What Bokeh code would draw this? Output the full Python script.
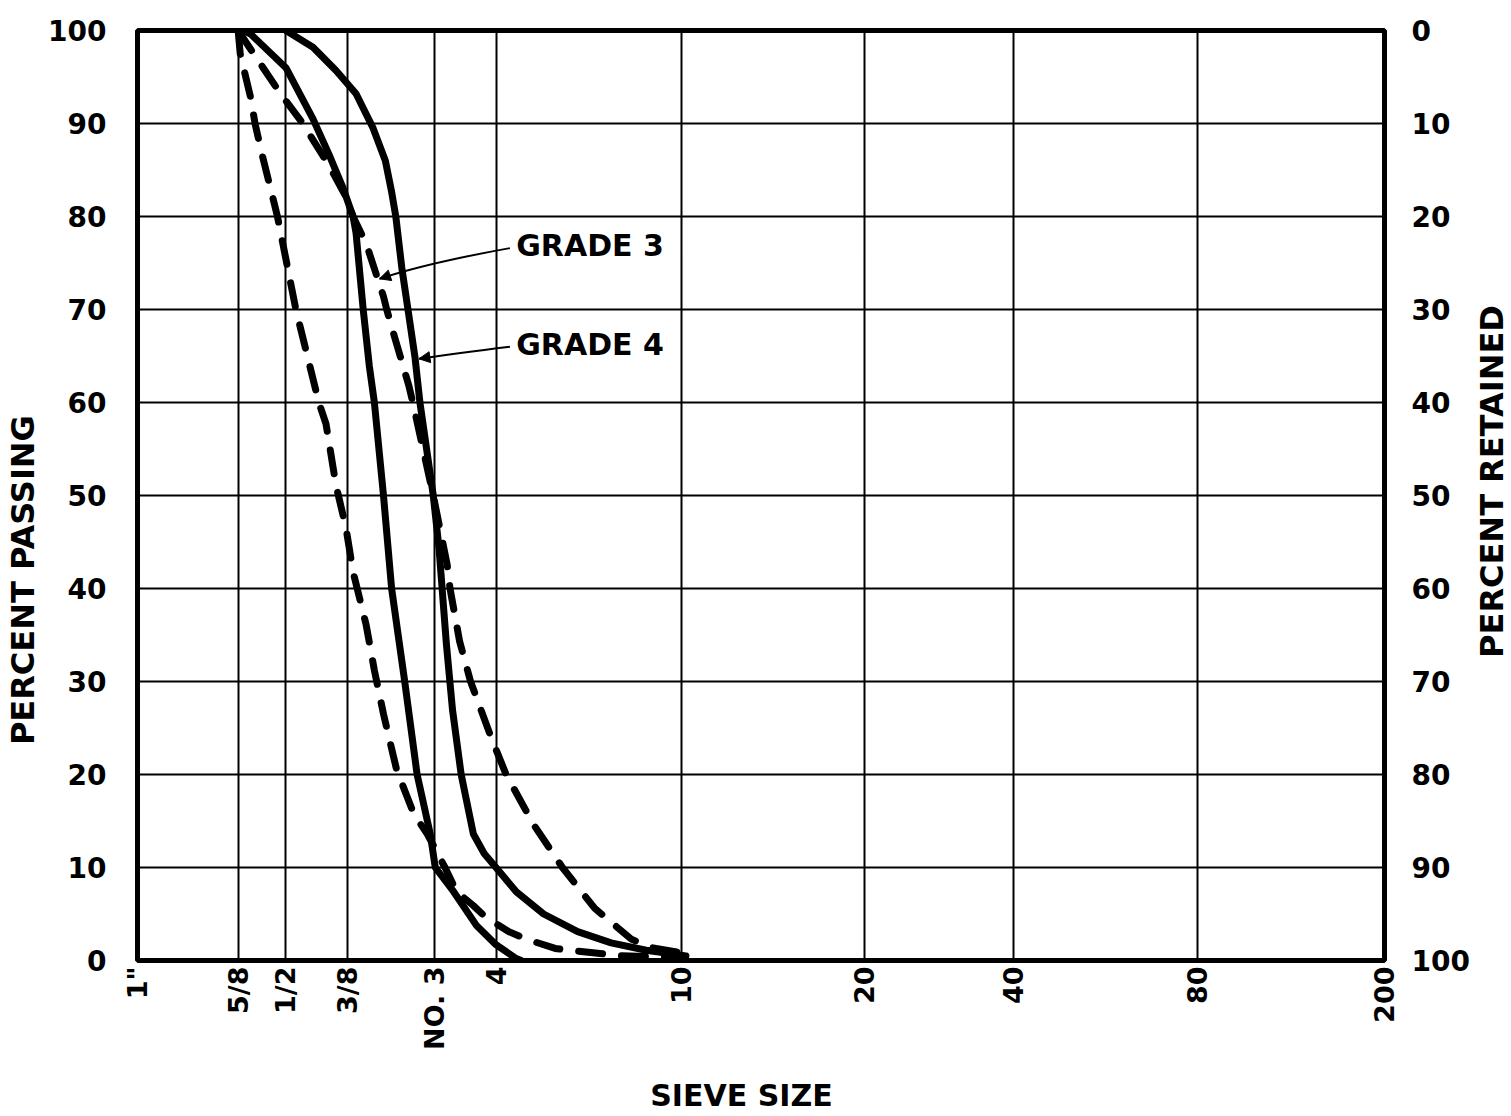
import math
from bokeh.plotting import figure
from bokeh.layouts import row, column
from bokeh.models import (Range1d, LinearAxis, FixedTicker, CustomJSTickFormatter,
                          Label, Arrow, NormalHead)
from bokeh.embed import file_html
from bokeh.resources import INLINE

# ---------------- data ----------------
# sieve openings (mm) and their labels
sieve_mm = [25.4, 15.875, 12.7, 9.525, 6.35, 4.75, 2.0, 0.85, 0.425, 0.18, 0.075]
sieve_labels = ['1"', '5/8', '1/2', '3/8', 'NO. 3', '4', '10', '20', '40', '80', '200']
pct_ticks = [0, 10, 20, 30, 40, 50, 60, 70, 80, 90, 100]

# Grade 3 limits (dashed)
g3_a_mm = [15.875, 15.72, 14.96, 14.67, 14.17, 13.21, 12.12, 10.89, 10.53, 10.05, 9.59, 9.28,
           8.73, 8.40, 8.05, 7.68, 7.57, 6.98, 6.56, 6.04, 5.72, 5.29, 4.98, 4.48, 4.13,
           3.61, 3.36, 2.65, 1.97]
g3_a_pct = [100, 97.5, 92.7, 90, 86.5, 80, 70, 60, 57.7, 51.1, 46.5, 41.8,
            36.1, 31.2, 26.5, 21.9, 20.5, 15.7, 13.6, 10, 7.4, 5.9, 4.6, 3.1, 2.3,
            1.3, 1.1, 0.5, 0.3]
g3_b_mm = [15.875, 14.59, 13.02, 11.73, 11.30, 10.53, 10.19, 9.59, 9.28, 8.73, 8.05, 7.93,
           7.64, 7.15, 7.02, 6.38, 5.98, 5.90, 5.64, 5.36, 4.87, 4.54, 3.99, 3.49, 3.00,
           2.53, 2.31, 1.93]
g3_b_pct = [100, 97.1, 93.2, 90, 88.6, 86.0, 84.7, 82.1, 80, 77.1, 71.4, 70,
            67.0, 61.8, 60, 50, 42.6, 40, 34.3, 30, 24.0, 20, 14.6, 10, 5.6,
            2.3, 1.4, 0.7]

# Grade 4 limits (solid)
g4_a_mm = [15.5, 14.96, 12.70, 11.19, 10.39, 9.73, 9.28, 9.15, 8.85, 8.60, 8.40, 8.05,
           7.75, 7.29, 6.88, 6.47, 6.32, 5.80, 5.22, 4.76, 4.33, 4.23]
g4_a_pct = [100, 99.6, 96.0, 90.5, 86.7, 83.1, 80, 78.2, 70, 63.9, 60, 50,
            40, 30, 20, 13.6, 10, 7.4, 3.8, 1.7, 0.2, 0]
g4_b_mm = [12.70, 11.19, 10.05, 9.15, 8.45, 7.98, 7.76, 7.60, 7.39, 7.18, 6.95, 6.79,
           6.38, 6.21, 6.00, 5.83, 5.60, 5.29, 5.03, 4.76, 4.33, 3.81, 3.25, 2.78, 2.36, 1.96]
g4_b_pct = [100, 98.2, 95.7, 93.2, 89.5, 86.0, 82.8, 80, 74.5, 70, 64.9, 60,
            50, 44.3, 34.0, 26.9, 20, 13.6, 11.5, 10, 7.4, 5.0, 3.1, 1.9, 1.1, 0.5]

# annotation labels: (text, x mm, y %), leader (tail, control, tip)
grade_labels = ["GRADE 3", "GRADE 4"]
label_x = [4.33, 4.33]
label_y = [76.9, 66.2]
lead_tail_x = [4.46, 4.46]
lead_tail_y = [76.6, 66.0]
lead_ctrl_x = [6.56, 5.72]
lead_ctrl_y = [75.0, 65.3]
lead_tip_x = [8.20, 6.82]
lead_tip_y = [73.3, 64.7]

# axis titles and where along the percent scale their centres sit
side_titles = ["PERCENT PASSING", "PERCENT RETAINED"]
side_title_pct = [40.9, 51.5]
x_title = "SIEVE SIZE"
x_title_frac = 0.4907   # position across the page width

FONT = "DejaVu Sans"
H = 1058          # height of the row holding the chart
H_BOTTOM = 56     # strip under it holding the x-axis title
LEFT_W, MAIN_W, RIGHT_W = 44, 1428, 38
BT, BB = 30, 98

p = figure(width=MAIN_W, height=H, x_axis_type="log",
           x_range=Range1d(sieve_mm[0], sieve_mm[-1]), y_range=Range1d(0, 100),
           output_backend="svg", toolbar_location=None, sizing_mode="fixed",
           min_border_left=93, min_border_right=87, min_border_top=BT,
           min_border_bottom=BB)
try:
    p.title_location = None
except Exception:
    pass
p.outline_line_color = "black"
p.outline_line_width = 5
p.background_fill_color = "white"
p.border_fill_color = "white"

xt = FixedTicker(ticks=sieve_mm, minor_ticks=[])
yt = FixedTicker(ticks=pct_ticks, minor_ticks=[])
xax = p.below[0]
yax = p.left[0]
xax.ticker = xt
yax.ticker = yt
p.xgrid.ticker = xt
p.ygrid.ticker = yt
for g in (p.xgrid, p.ygrid):
    g.grid_line_color = "black"
    g.grid_line_width = 2
    g.grid_line_alpha = 1.0

xax.formatter = CustomJSTickFormatter(args=dict(vals=sieve_mm, labs=sieve_labels), code="""
let best = 0, d = Infinity;
for (let i = 0; i < vals.length; i++) {
  const e = Math.abs(Math.log(tick) - Math.log(vals[i]));
  if (e < d) { d = e; best = i; }
}
return labs[best];
""")
xax.major_label_orientation = math.pi / 2

p.extra_y_ranges = {"ret": Range1d(100, 0)}
rax = LinearAxis(y_range_name="ret", ticker=FixedTicker(ticks=pct_ticks, minor_ticks=[]))
p.add_layout(rax, "right")

for ax in (xax, yax, rax):
    ax.axis_line_color = None
    ax.major_tick_line_color = None
    ax.minor_tick_line_color = None
    ax.major_tick_out = 0
    ax.major_tick_in = 0
    ax.minor_tick_out = 0
    ax.minor_tick_in = 0
    ax.major_label_text_font = FONT
    ax.major_label_text_font_style = "bold"
    ax.major_label_text_font_size = "28px"
    ax.major_label_text_color = "black"

yax.major_label_standoff = 31
xax.major_label_standoff = 6
xax.major_label_text_font_size = "27px"
rax.major_label_standoff = 27

# curves
curves = [
    (g3_a_mm, g3_a_pct, "24 19"),
    (g3_b_mm, g3_b_pct, "24 19"),
    (g4_a_mm, g4_a_pct, "solid"),
    (g4_b_mm, g4_b_pct, "solid"),
]
for xs, ys, dash in curves:
    p.line(xs, ys, line_width=7, line_color="black", line_dash=dash,
           line_cap="round", line_join="round")

# annotations
for i, txt in enumerate(grade_labels):
    p.add_layout(Label(x=label_x[i], y=label_y[i], text=txt, text_font=FONT,
                       text_font_style="bold", text_font_size="30px", text_color="black",
                       text_align="left", text_baseline="middle"))
p.quadratic(x0=lead_tail_x, y0=lead_tail_y, x1=lead_tip_x, y1=lead_tip_y,
            cx=lead_ctrl_x, cy=lead_ctrl_y, line_width=2, line_color="black")
for i in range(len(grade_labels)):
    p.add_layout(Arrow(x_start=lead_ctrl_x[i], y_start=lead_ctrl_y[i],
                       x_end=lead_tip_x[i], y_end=lead_tip_y[i], line_color=None,
                       end=NormalHead(size=11, fill_color="black", line_color="black",
                                      line_width=1)))


def blank(width, height, yr, bt, bb):
    s = figure(width=width, height=height, x_range=Range1d(0, 1), y_range=yr,
               output_backend="svg", toolbar_location=None, sizing_mode="fixed",
               min_border_left=0, min_border_right=0, min_border_top=bt,
               min_border_bottom=bb, x_axis_location=None, y_axis_location=None)
    try:
        s.title_location = None
    except Exception:
        pass
    s.grid.visible = False
    s.outline_line_color = None
    s.background_fill_color = "white"
    s.border_fill_color = "white"
    return s


# side strips carrying the rotated axis titles; their frames line up with the main frame
def title_strip(width, text, pct):
    s = blank(width, H, Range1d(0, 100), BT, BB)
    s.add_layout(Label(x=0.5, y=pct, text=text, angle=math.pi / 2, angle_units="rad",
                       text_font=FONT, text_font_style="bold", text_font_size="32px",
                       text_color="black", text_align="center", text_baseline="middle"))
    return s


left_strip = title_strip(LEFT_W, side_titles[0], side_title_pct[0])
right_strip = title_strip(RIGHT_W, side_titles[1], side_title_pct[1])

bottom_strip = blank(LEFT_W + MAIN_W + RIGHT_W, H_BOTTOM, Range1d(0, 1), 0, 0)
bottom_strip.add_layout(Label(x=x_title_frac, y=0.34, text=x_title, text_font=FONT,
                              text_font_style="bold", text_font_size="30px",
                              text_color="black", text_align="center",
                              text_baseline="middle"))

layout = column(row(left_strip, p, right_strip, spacing=0, sizing_mode="fixed"),
                bottom_strip, spacing=0, sizing_mode="fixed")
open("out.html", "w").write(file_html(layout, INLINE))
